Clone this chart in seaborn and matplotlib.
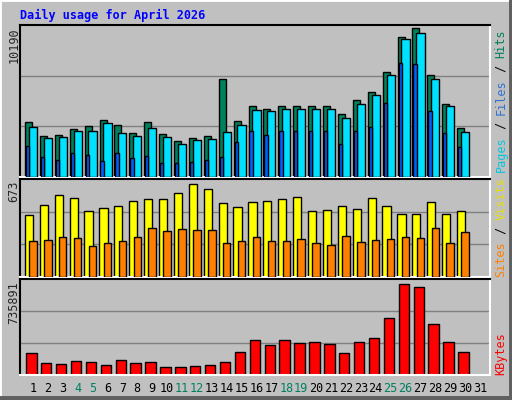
import numpy as np
import pandas as pd
import matplotlib
matplotlib.use("Agg")
import matplotlib.pyplot as plt
import seaborn as sns

# --- data (days 1..30 have data, 31 is empty) ---
days = list(range(1, 31))
hits = [3736, 2785, 2853, 3261, 3464, 3872, 3532, 2989, 3736, 2921, 2445, 2649, 2785,
        6590, 3804, 4823, 4619, 4823, 4823, 4823, 4823, 4280, 5163, 5706, 7066,
        9443, 10054, 6862, 4959, 3329]
files = [3396, 2649, 2717, 3125, 3125, 3668, 2989, 2785, 3329, 2717, 2242, 2513, 2581,
         3057, 3532, 4551, 4483, 4619, 4619, 4619, 4619, 4008, 4959, 5502, 6862,
         9307, 9715, 6590, 4823, 3057]
pages = [2106, 1359, 1155, 1630, 1495, 1087, 1630, 1291, 1427, 951, 951, 1019, 1155,
         1359, 2377, 3125, 2853, 3125, 3125, 3125, 3125, 2241, 3125, 3396, 5027,
         7677, 7609, 4483, 2989, 2038]
visits = [428, 498, 568, 547, 458, 479, 493, 528, 542, 542, 584, 647, 612,
          514, 486, 521, 528, 542, 556, 458, 465, 493, 472, 549, 493,
          437, 437, 521, 437, 458]
sites = [252, 259, 280, 273, 217, 238, 252, 280, 343, 322, 336, 329, 329,
         238, 252, 280, 252, 252, 266, 238, 224, 287, 245, 259, 266,
         280, 273, 339, 233, 311]
kbytes = [170400, 92940, 85200, 108430, 100680, 77450, 116170, 92940, 100680, 61960,
          61960, 69700, 77450, 100680, 178150, 271100, 232360, 271100, 247860, 255610,
          240110, 170400, 255610, 286590, 441520, 707500, 684260, 397630, 255610, 178150]
max_hits, max_visits, max_kbytes = 10190, 673, 735891
weekend = [4, 5, 11, 12, 18, 19, 25, 26]

BG = "#c0c0c0"
GRID = "#808080"
C_HITS, C_FILES, C_PAGES = "#00805c", "#00e0ff", "#0060ff"
C_VISITS, C_SITES, C_KB = "#ffff00", "#ff8000", "#ff0000"

sns.set_style("white", {"axes.facecolor": BG, "figure.facecolor": BG})
plt.rcParams['font.family'] = ['DejaVu Sans Mono']

fig = plt.figure(figsize=(5.12, 4.0), dpi=100)
W, H = 512, 400


def panel(y0, y1):
    return fig.add_axes([20 / W, 1 - y1 / H, 470 / W, (y1 - y0) / H])


def bars(ax, vals, offset, width, color, z=2):
    df = pd.DataFrame({"x": np.array(days) + offset, "y": vals})
    n_before = len(ax.patches)
    sns.barplot(data=df, x="x", y="y", native_scale=True, width=width, color=color,
                edgecolor="black", linewidth=1, saturation=1, ax=ax)
    for p in ax.patches[n_before:]:
        p.set_zorder(z)


def style(ax, ymax):
    ax.set_xlim(0.13, 31.67)
    ax.set_ylim(0, ymax)
    for v in (ymax / 3, 2 * ymax / 3):
        ax.axhline(v, color=GRID, lw=1, zorder=0.5)
    ax.set_xticks([])
    ax.set_yticks([])
    ax.set_xlabel("")
    ax.set_ylabel("")
    for s in ("left", "top"):
        ax.spines[s].set_color("black")
    for s in ("right", "bottom"):
        ax.spines[s].set_color("white")
    for s in ax.spines.values():
        s.set_linewidth(1.5)


ax1 = panel(25, 177)
bars(ax1, hits, -0.30, 0.47, C_HITS, z=2)
bars(ax1, files, 0.0, 0.55, C_FILES, z=3)
bars(ax1, pages, -0.36, 0.22, C_PAGES, z=4)
style(ax1, max_hits * 151 / 150)

ax2 = panel(179, 277)
bars(ax2, visits, -0.27, 0.55, C_VISITS, z=2)
bars(ax2, sites, 0.0, 0.5, C_SITES, z=3)
style(ax2, max_visits * 97 / 96)

ax3 = panel(279, 375)
bars(ax3, kbytes, -0.11, 0.7, C_KB)
style(ax3, max_kbytes * 96 / 95)

fs = 8.5
fig.text(20 / W, 1 - 15 / H, "Daily usage for April 2026", color="#0000ff",
         fontsize=fs, fontweight="bold", va="center", ha="left")

# left max labels
for y, lab in ((27, "10190"), (181, "673"), (281, "735891")):
    fig.text(14 / W, 1 - y / H, lab, rotation=90, fontsize=fs, va="top", ha="center")

# x day labels
for d in range(1, 32):
    px = 33 + 14.9 * (d - 1)
    fig.text(px / W, 1 - 388 / H, str(d), fontsize=fs, ha="center", va="center",
             color="#008060" if d in weekend else "black")

# right multi-coloured legends, built bottom-up
renderer = fig.canvas.get_renderer()


def right_label(parts, y_bottom):
    y = 1 - y_bottom / H
    for txt, col in parts:
        t = fig.text(501 / W, y, txt, rotation=90, fontsize=fs, color=col,
                     ha="center", va="bottom")
        bb = t.get_window_extent(renderer)
        y += bb.height / H


right_label([("Pages", "#00c8e0"), (" / ", "black"), ("Files", "#3070d0"),
             (" / ", "black"), ("Hits", C_HITS)], 172)
right_label([("Sites", C_SITES), (" / ", "black"), ("Visits", "#e8e000")], 277)
right_label([("KBytes", C_KB)], 375)

# window-like bevel border
fig.add_artist(plt.Line2D([0, 0, 1], [0, 1, 1], transform=fig.transFigure,
                          color="white", lw=2))
fig.add_artist(plt.Line2D([0, 1, 1], [0.003, 0.003, 1], transform=fig.transFigure,
                          color="#606060", lw=5))

fig.savefig("out.png", dpi=100, facecolor=BG)
